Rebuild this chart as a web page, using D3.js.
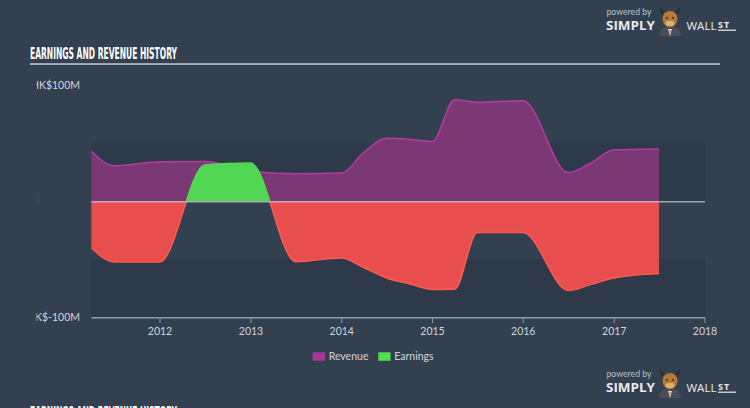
<!DOCTYPE html>
<html>
<head>
<meta charset="utf-8">
<script src="https://cdn.jsdelivr.net/npm/d3@7"></script>
<style>
  html, body { margin: 0; padding: 0; background: #334050; }
  svg { display: block; }
</style>
</head>
<body>
<svg id="chart" width="750" height="408"></svg>
<script>
// ---- data ----
const dates = ["2011-03-31","2011-06-30","2011-12-31","2012-06-30","2012-12-31","2013-06-30",
  "2013-12-31","2014-03-31","2014-06-30","2014-09-30","2014-12-31","2015-03-31","2015-06-30",
  "2015-12-31","2016-06-30","2016-09-30","2016-12-31","2017-06-30"];
const revenue = [43, 30.5, 34, 34.2, 26, 23.6, 24.2, 42, 54.2, 53.4, 51.3, 87.3, 85.2, 86.5, 24.7, 33, 44.2, 45];
const earnings = [-40, -52.2, -52.2, 31.3, 32.8, -52, -48.8, -57, -66, -71, -76, -75.6, -26.8, -26.8, -76.8, -71.5, -66, -62.2];
const yTickValues = [100, -100];
const yTickLabels = ["HK$100M", "HK$-100M"];
const xTickYears = [2012, 2013, 2014, 2015, 2016, 2017, 2018];
const legendNames = ["Revenue", "Earnings"];
const titleText = "EARNINGS AND REVENUE HISTORY";

const parse = d3.timeParse("%Y-%m-%d");
const data = dates.map((d, i) => ({ date: parse(d), rev: revenue[i], earn: earnings[i] }));

const svg = d3.select("#chart");
const W = 750, H = 408;

svg.append("rect").attr("width", W).attr("height", H).attr("fill", "#334050");

const x = d3.scaleTime()
  .domain([new Date(2012, 0, 1), new Date(2018, 0, 1)])
  .range([160, 705]);
const y = d3.scaleLinear().domain([-100, 100]).range([317.5, 85]);

const x0 = x(data[0].date), x1 = x(new Date(2018, 0, 1));

// title
function title(yBase) {
  svg.append("text")
    .attr("x", 30).attr("y", yBase)
    .attr("font-family", "'Liberation Sans Narrow','DejaVu Sans Condensed',sans-serif")
    .attr("font-weight", "bold").attr("font-size", 16)
    .attr("fill", "#ffffff")
    .attr("textLength", 147).attr("lengthAdjust", "spacingAndGlyphs")
    .text(titleText);
}
title(58.5);
svg.append("rect").attr("x", 30).attr("y", 63.3).attr("width", 690).attr("height", 1.5).attr("fill", "#c9ced4");
title(418);

// bands
[[50, 0], [-50, -100]].forEach(([a, b]) => {
  svg.append("rect")
    .attr("x", x0).attr("y", y(a))
    .attr("width", x1 - x0).attr("height", y(b) - y(a))
    .attr("fill", "#2e3a49");
});

// y labels (clipped at left)
svg.append("clipPath").attr("id", "ylab").append("rect")
  .attr("x", 36.5).attr("y", 0).attr("width", 60).attr("height", H);
const yl = svg.append("g").attr("clip-path", "url(#ylab)");
yTickValues.forEach((v, i) => {
  yl.append("text")
    .attr("x", 80).attr("y", y(v))
    .attr("dy", "0.35em")
    .attr("text-anchor", "end")
    .attr("font-family", "Lato, 'Open Sans', sans-serif")
    .attr("font-size", 10.5)
    .attr("fill", "#d0d5db")
    .text(yTickLabels[i]);
});
svg.append("rect").attr("x", 37.5).attr("y", 193).attr("width", 1).attr("height", 12).attr("fill", "#3c4858");

// areas
const curve = d3.curveMonotoneX;
const revArea = d3.area().curve(curve).x(d => x(d.date)).y0(y(0)).y1(d => y(d.rev));
const revLine = d3.line().curve(curve).x(d => x(d.date)).y(d => y(d.rev));
const earnArea = d3.area().curve(curve).x(d => x(d.date)).y0(y(0)).y1(d => y(d.earn));
const earnLine = d3.line().curve(curve).x(d => x(d.date)).y(d => y(d.earn));

svg.append("path").datum(data).attr("d", revArea).attr("fill", "#7b3875");
svg.append("path").datum(data).attr("d", revLine).attr("fill", "none")
  .attr("stroke", "#b03ea2").attr("stroke-width", 1.5);

const defs = svg.append("defs");
defs.append("clipPath").attr("id", "above").append("rect")
  .attr("x", 0).attr("y", 0).attr("width", W).attr("height", y(0));
defs.append("clipPath").attr("id", "below").append("rect")
  .attr("x", 0).attr("y", y(0)).attr("width", W).attr("height", H - y(0));

const gUp = svg.append("g").attr("clip-path", "url(#above)");
gUp.append("path").datum(data).attr("d", earnArea).attr("fill", "#52d552");
gUp.append("path").datum(data).attr("d", earnLine).attr("fill", "none")
  .attr("stroke", "#49e049").attr("stroke-width", 1.5);

const gDn = svg.append("g").attr("clip-path", "url(#below)");
gDn.append("path").datum(data).attr("d", earnArea).attr("fill", "#e94e4e");
gDn.append("path").datum(data).attr("d", earnLine).attr("fill", "none")
  .attr("stroke", "#ff5a4f").attr("stroke-width", 1.5);

// zero line
svg.append("line")
  .attr("x1", x0).attr("x2", x1).attr("y1", y(0) + 0.5).attr("y2", y(0) + 0.5)
  .attr("stroke", "#c8ccd2").attr("stroke-width", 1.3).attr("stroke-opacity", 0.75);

// x axis
const ax = svg.append("g");
ax.append("line").attr("x1", x0).attr("x2", x1).attr("y1", 317.8).attr("y2", 317.8)
  .attr("stroke", "#8d99a8").attr("stroke-width", 1.5);
xTickYears.forEach(yr => {
  const xx = x(new Date(yr, 0, 1));
  ax.append("line").attr("x1", xx).attr("x2", xx).attr("y1", 317.8).attr("y2", 323)
    .attr("stroke", "#8d99a8").attr("stroke-width", 1);
  ax.append("text").attr("x", xx).attr("y", 331).attr("dy", "0.35em")
    .attr("text-anchor", "middle")
    .attr("font-family", "Lato, 'Open Sans', sans-serif")
    .attr("font-size", 10.5).attr("fill", "#d0d5db")
    .text(String(yr));
});

// legend
const legColors = ["#a8379c", "#4fe04f"];
const legX = [312.7, 378.3];
legendNames.forEach((n, i) => {
  svg.append("rect").attr("x", legX[i]).attr("y", 352.3).attr("width", 12.3).attr("height", 8.5)
    .attr("fill", legColors[i]);
  svg.append("text").attr("x", legX[i] + 16).attr("y", 356.7).attr("dy", "0.35em")
    .attr("font-family", "Lato, 'Open Sans', sans-serif")
    .attr("font-size", 10.5).attr("fill", "#d0d5db")
    .text(n);
});

// logo
function logo(ty) {
  const g = svg.append("g").attr("transform", `translate(0,${ty})`);
  g.append("text").attr("x", 606.5).attr("y", 15.3)
    .attr("font-family", "Lato, 'Open Sans', sans-serif").attr("font-size", 9)
    .attr("fill", "#b9c0c8").attr("textLength", 45).attr("lengthAdjust", "spacingAndGlyphs")
    .text("powered by");
  g.append("text").attr("x", 606).attr("y", 30.3)
    .attr("font-family", "'Open Sans', Lato, sans-serif").attr("font-weight", "bold").attr("font-size", 13)
    .attr("fill", "#e8ebee").attr("textLength", 49).attr("lengthAdjust", "spacingAndGlyphs")
    .text("SIMPLY");
  // bull
  g.append("path").attr("d", "M659,36 Q660,26 670,26 Q680,26 681,36 Z").attr("fill", "#4a4f57");
  g.append("path").attr("d", "M668,29 L670,36 L672,29 Z").attr("fill", "#e0e0e0");
  g.append("path").attr("d", "M669.3,30 L670,35 L670.7,30 Z").attr("fill", "#e05a20");
  g.append("ellipse").attr("cx", 670).attr("cy", 19).attr("rx", 7.5).attr("ry", 8).attr("fill", "#b57a35");
  g.append("path").attr("d", "M662,14 Q659,10 661,7 Q662,11 665,12 Z").attr("fill", "#2b2b2b");
  g.append("path").attr("d", "M678,14 Q681,10 679,7 Q678,11 675,12 Z").attr("fill", "#2b2b2b");
  g.append("ellipse").attr("cx", 670).attr("cy", 23.5).attr("rx", 4.5).attr("ry", 2.8).attr("fill", "#e0b070");
  g.append("circle").attr("cx", 667).attr("cy", 18).attr("r", 0.9).attr("fill", "#222");
  g.append("circle").attr("cx", 673).attr("cy", 18).attr("r", 0.9).attr("fill", "#222");
  const wt = g.append("text").attr("x", 686.5).attr("y", 30.3)
    .attr("font-family", "'Open Sans', Lato, sans-serif").attr("font-size", 11.5)
    .attr("fill", "#e8ebee");
  wt.append("tspan").text("WALL");
  wt.append("tspan").attr("dx", 1.5).attr("dy", -2.3)
    .attr("font-weight", "bold").attr("font-size", 9).attr("letter-spacing", 1.2)
    .text("ST");
  g.append("rect").attr("x", 718).attr("y", 29.6).attr("width", 18).attr("height", 1.2).attr("fill", "#e8ebee");
}
logo(0);
logo(362);
</script>
</body>
</html>
